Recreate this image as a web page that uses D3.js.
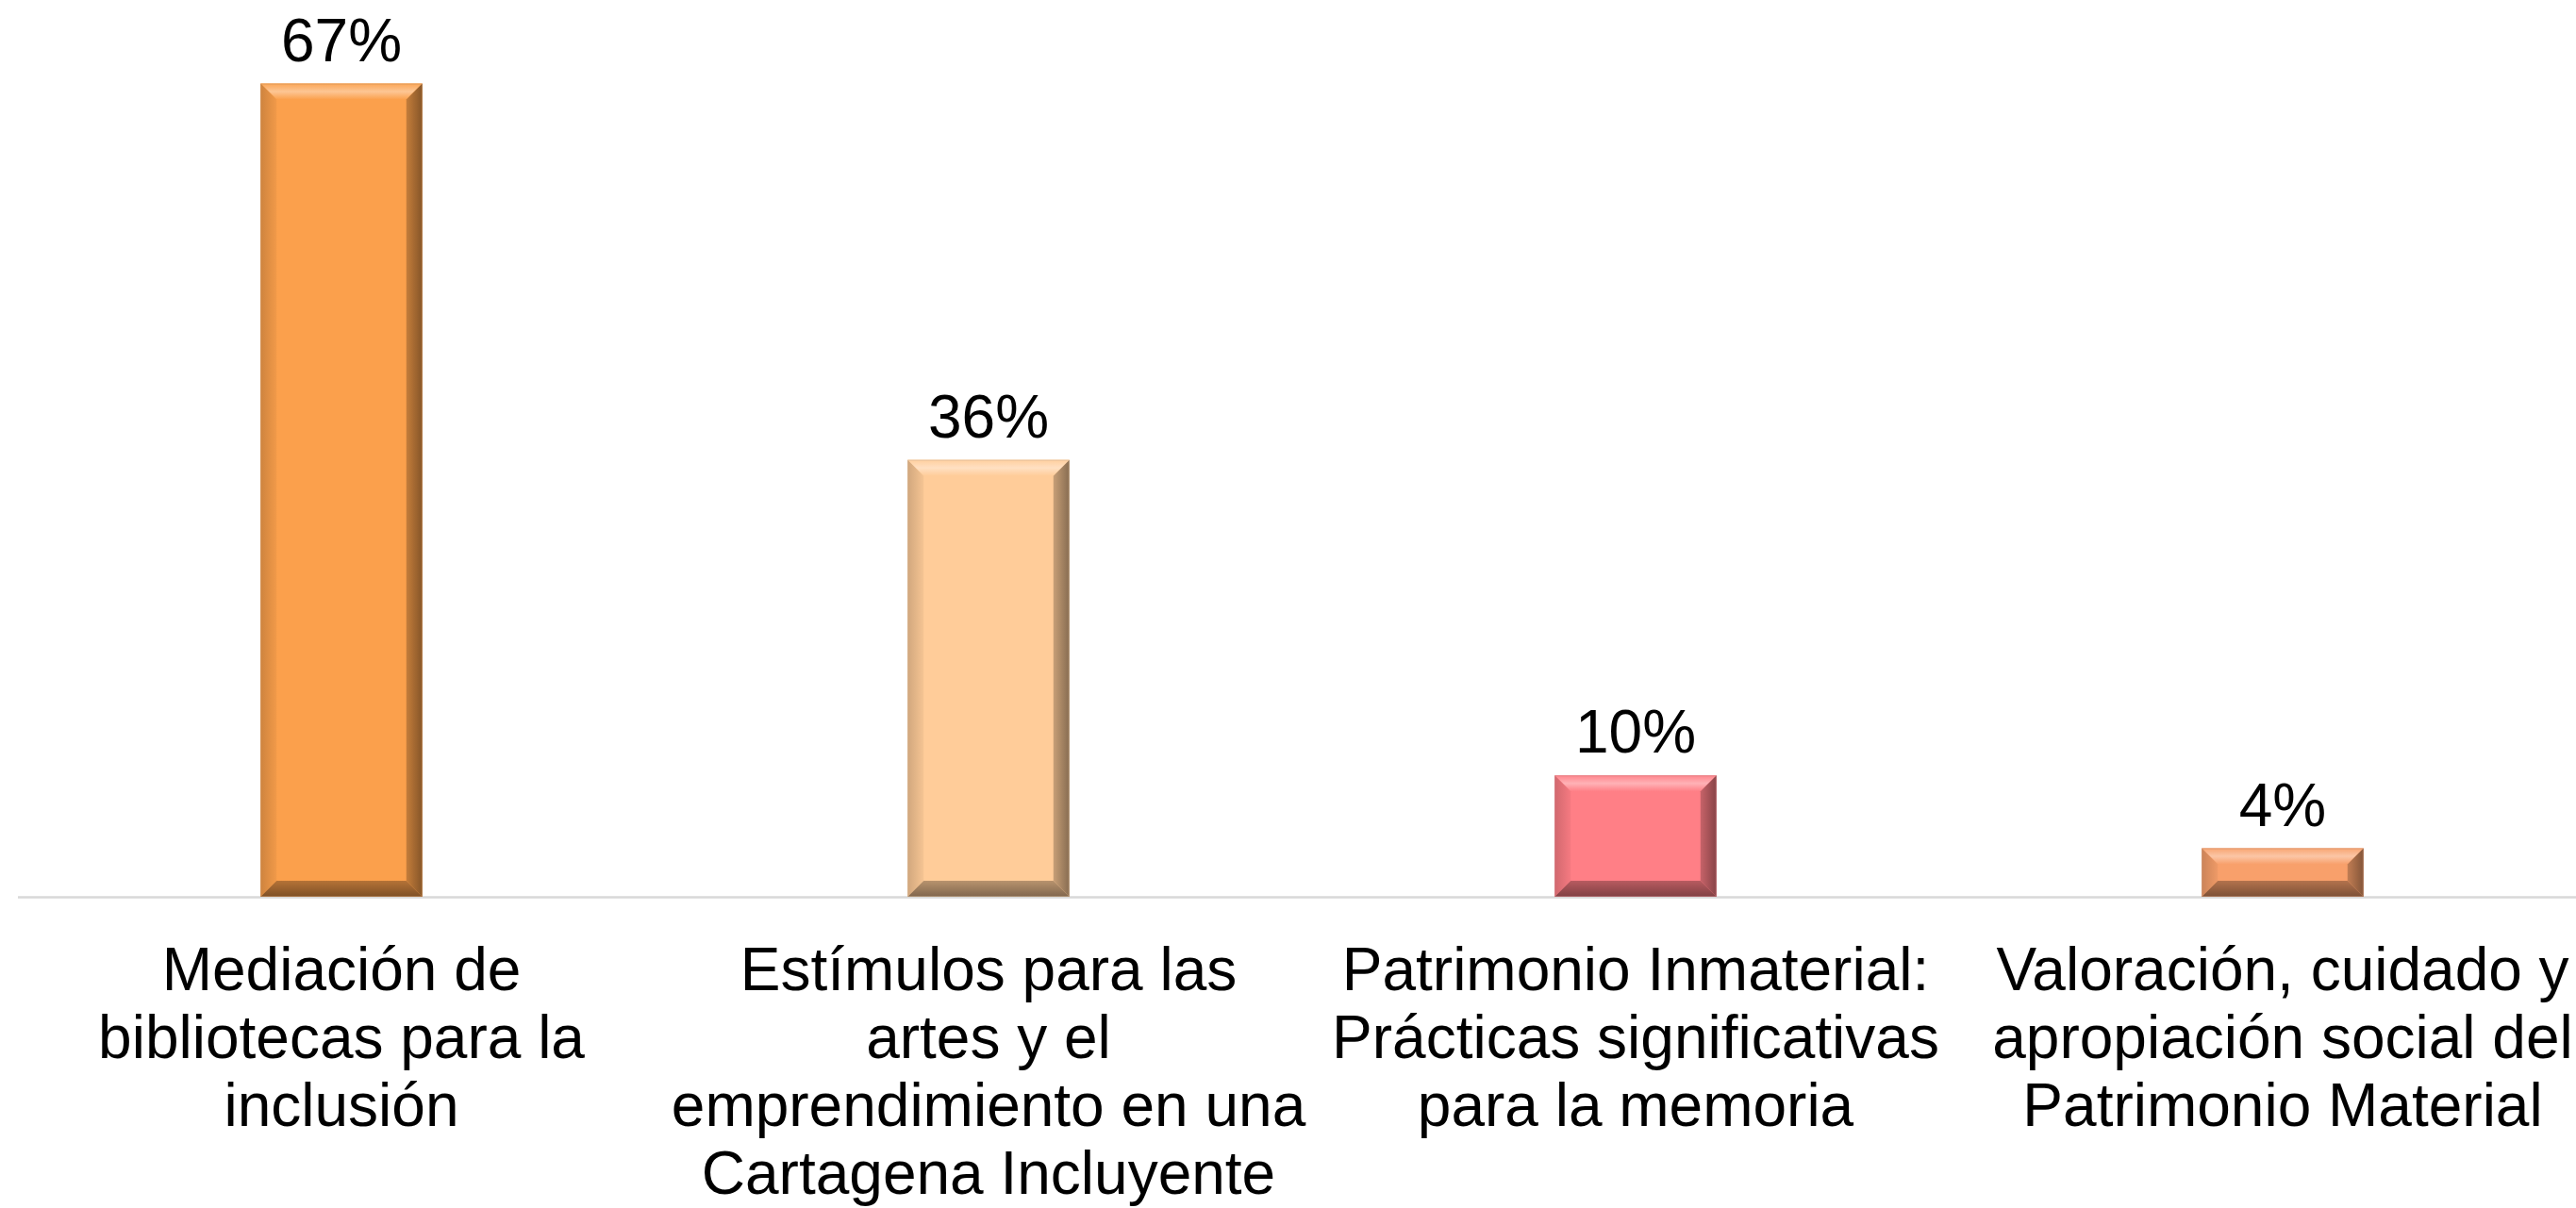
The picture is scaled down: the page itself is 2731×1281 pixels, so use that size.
<!DOCTYPE html>
<meta charset="utf-8">
<style>
body { margin: 0; background: #fff; }
svg { display: block; }
.label text { font-family: "Liberation Sans", Arial, sans-serif; fill: #000; }
</style>
<svg id="chart" width="2731" height="1281"></svg>
<script src="https://d3js.org/d3.v7.min.js"></script>
<script>

// chart data
var categories = [
  "Mediación de bibliotecas para la inclusión",
  "Estímulos para las artes y el emprendimiento en una Cartagena Incluyente",
  "Patrimonio Inmaterial: Prácticas significativas para la memoria",
  "Valoración, cuidado y apropiación social del Patrimonio Material"
];
var values = [0.67, 0.36, 0.10, 0.04];
var valueLabels = ["67%", "36%", "10%", "4%"];
var labelLines = [
  ["Mediación de", "bibliotecas para la", "inclusión"],
  ["Estímulos para las", "artes y el", "emprendimiento en una", "Cartagena Incluyente"],
  ["Patrimonio Inmaterial:", "Prácticas significativas", "para la memoria"],
  ["Valoración, cuidado y", "apropiación social del", "Patrimonio Material"]
];

var faceColors = ["#fba04c", "#ffcc99", "#ff7f86", "#f8a06b"];

var svg = d3.select("#chart"),
    baseY = 951,
    bevel = 17;

var x = d3.scaleBand()
    .domain(categories)
    .range([19, 2763])
    .paddingInner(0.75)
    .paddingOuter(0.375);

var y = d3.scaleLinear()
    .domain([0, 0.7])
    .range([baseY, 50]);

var defs = svg.append("defs");

function mix(c, target, t) { return d3.interpolateRgb(c, target)(t); }

// gradients for the bevel faces
faceColors.forEach(function(c, i) {
  var top = defs.append("linearGradient").attr("id", "top" + i)
      .attr("x1", 0).attr("y1", 0).attr("x2", 0).attr("y2", 1);
  top.append("stop").attr("offset", "0%").attr("stop-color", mix(c, "#fff", 0.05));
  top.append("stop").attr("offset", "50%").attr("stop-color", mix(c, "#fff", 0.4));
  top.append("stop").attr("offset", "100%").attr("stop-color", c);

  var left = defs.append("linearGradient").attr("id", "left" + i)
      .attr("x1", 0).attr("y1", 0).attr("x2", 1).attr("y2", 0);
  left.append("stop").attr("offset", "0%").attr("stop-color", mix(c, "#000", 0.18));
  left.append("stop").attr("offset", "100%").attr("stop-color", mix(c, "#000", 0.04));

  var right = defs.append("linearGradient").attr("id", "right" + i)
      .attr("x1", 0).attr("y1", 0).attr("x2", 1).attr("y2", 0);
  right.append("stop").attr("offset", "0%").attr("stop-color", mix(c, "#000", 0.22));
  right.append("stop").attr("offset", "100%").attr("stop-color", mix(c, "#000", 0.47));

  var bottom = defs.append("linearGradient").attr("id", "bottom" + i)
      .attr("x1", 0).attr("y1", 0).attr("x2", 0).attr("y2", 1);
  bottom.append("stop").attr("offset", "0%").attr("stop-color", mix(c, "#000", 0.28));
  bottom.append("stop").attr("offset", "100%").attr("stop-color", mix(c, "#000", 0.5));
});

// baseline
svg.append("line")
    .attr("x1", 19).attr("x2", 2731)
    .attr("y1", baseY + 0.5).attr("y2", baseY + 0.5)
    .attr("stroke", "#d9d9d9")
    .attr("stroke-width", 2.5);

var bars = svg.selectAll(".bar")
  .data(categories)
  .enter().append("g")
    .attr("class", "bar");

bars.each(function(d, i) {
  var g = d3.select(this),
      x0 = x(d), x1 = x(d) + x.bandwidth(),
      y0 = y(values[i]), y1 = baseY,
      b = Math.min(bevel, (y1 - y0) / 2.5);

  g.append("rect")
      .attr("x", x0).attr("y", y0)
      .attr("width", x1 - x0).attr("height", y1 - y0)
      .attr("fill", faceColors[i]);

  var pts = function(a) { return a.map(function(p) { return p.join(","); }).join(" "); };

  g.append("polygon").attr("fill", "url(#top" + i + ")")
      .attr("points", pts([[x0, y0], [x1, y0], [x1 - b, y0 + b], [x0 + b, y0 + b]]));
  g.append("polygon").attr("fill", "url(#left" + i + ")")
      .attr("points", pts([[x0, y0], [x0 + b, y0 + b], [x0 + b, y1 - b], [x0, y1]]));
  g.append("polygon").attr("fill", "url(#right" + i + ")")
      .attr("points", pts([[x1, y0], [x1 - b, y0 + b], [x1 - b, y1 - b], [x1, y1]]));
  g.append("polygon").attr("fill", "url(#bottom" + i + ")")
      .attr("points", pts([[x0, y1], [x1, y1], [x1 - b, y1 - b], [x0 + b, y1 - b]]));

  g.append("rect")
      .attr("x", x0 + 0.5).attr("y", y0 + 0.5)
      .attr("width", x1 - x0 - 1).attr("height", y1 - y0 - 1)
      .attr("fill", "none")
      .attr("stroke", mix(faceColors[i], "#888", 0.4))
      .attr("stroke-opacity", 0.5)
      .attr("stroke-width", 1);
});

// value labels
svg.append("g").attr("class", "label")
  .selectAll("text")
  .data(categories)
  .enter().append("text")
    .attr("x", function(d) { return x(d) + x.bandwidth() / 2; })
    .attr("y", function(d, i) { return y(values[i]) - 24; })
    .attr("text-anchor", "middle")
    .attr("font-size", 64)
    .text(function(d, i) { return valueLabels[i]; });

// category labels
var cat = svg.append("g").attr("class", "label")
  .selectAll("text")
  .data(categories)
  .enter().append("text")
    .attr("text-anchor", "middle")
    .attr("font-size", 64);

cat.each(function(d, i) {
  var t = d3.select(this), cx = x(d) + x.bandwidth() / 2;
  labelLines[i].forEach(function(line, j) {
    t.append("tspan")
        .attr("x", cx)
        .attr("y", 1050 + j * 72)
        .text(line);
  });
});

</script>
